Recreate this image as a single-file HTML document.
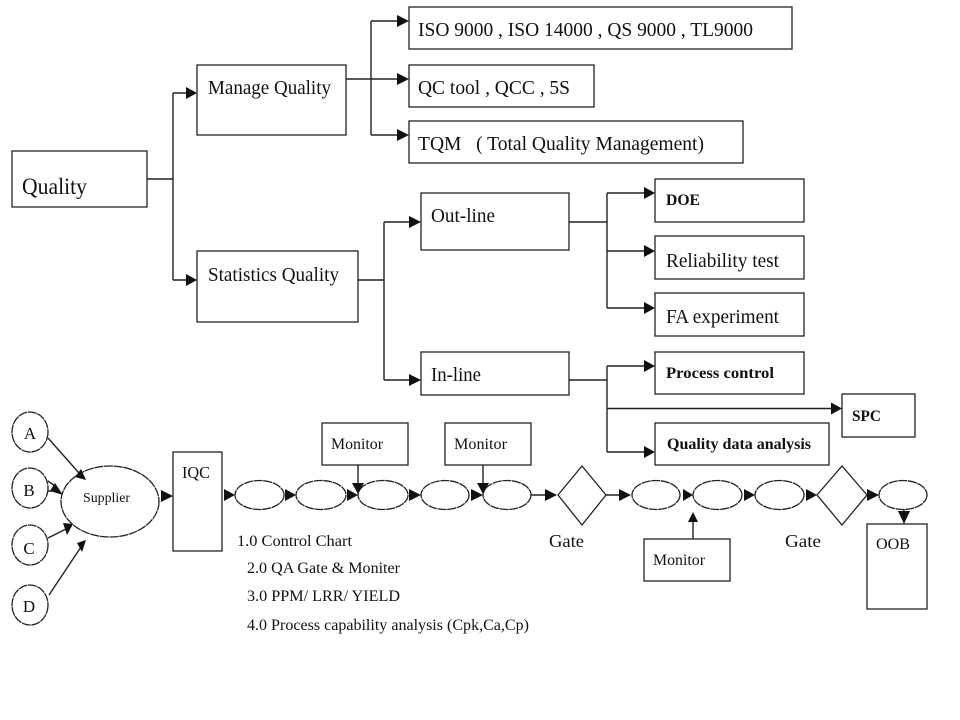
<!DOCTYPE html>
<html><head><meta charset="utf-8"><style>
html,body{margin:0;padding:0;background:#fff}
svg{display:block}
text{font-family:"Liberation Serif",serif;fill:#111}
.b{fill:#fff;stroke:#222;stroke-width:1.3}
.l{fill:none;stroke:#222;stroke-width:1.4}
.d{fill:#fff;stroke:#222;stroke-width:1.3;stroke-dasharray:9 .7}
.a{fill:#111}
</style></head><body>
<svg width="960" height="720" viewBox="0 0 960 720" xmlns="http://www.w3.org/2000/svg">
<rect width="960" height="720" fill="#fff"/>
<!-- connectors top -->
<path class="l" d="M147 179H173M173 93V280M173 93H190M173 280H190"/>
<path class="l" d="M346 79H400M371 21V135M371 21H400M371 135H400"/>
<path class="l" d="M358 280H384M384 222V380M384 222H412M384 380H412"/>
<path class="l" d="M569 222H607M607 193V308M607 193H645M607 251H645M607 308H645"/>
<path class="l" d="M569 380H607M607 366V452M607 366H645M607 408.500H832M607 452H645"/>
<!-- arrowheads top -->
<path class="a" d="M197 93L186 87V99Z M197 280L186 274V286Z"/>
<path class="a" d="M409 21L397 15V27Z M409 79L397 73V85Z M409 135L397 129V141Z"/>
<path class="a" d="M421 222L409 216V228Z M421 380L409 374V386Z"/>
<path class="a" d="M655 193L644 187V199Z M655 251L644 245V257Z M655 308L644 302V314Z"/>
<path class="a" d="M655 366L644 360V372Z M655 452L644 446V458Z M842 408.500L831 402.500V414.500Z"/>
<!-- boxes top -->
<rect class="b" x="12" y="151" width="135" height="56"/>
<rect class="b" x="197" y="65" width="149" height="70"/>
<rect class="b" x="197" y="251" width="161" height="71"/>
<rect class="b" x="409" y="7" width="383" height="42"/>
<rect class="b" x="409" y="65" width="185" height="42"/>
<rect class="b" x="409" y="121" width="334" height="42"/>
<rect class="b" x="421" y="193" width="148" height="57"/>
<rect class="b" x="421" y="352" width="148" height="43"/>
<rect class="b" x="655" y="179" width="149" height="43"/>
<rect class="b" x="655" y="236" width="149" height="43"/>
<rect class="b" x="655" y="293" width="149" height="43"/>
<rect class="b" x="655" y="352" width="149" height="42"/>
<rect class="b" x="842" y="394" width="73" height="43"/>
<rect class="b" x="655" y="423" width="174" height="42"/>
<!-- text top -->
<text x="22" y="194" font-size="23" textLength="65" lengthAdjust="spacingAndGlyphs">Quality</text>
<text x="208" y="94" font-size="20" textLength="123" lengthAdjust="spacingAndGlyphs">Manage Quality</text>
<text x="208" y="281" font-size="20" textLength="131" lengthAdjust="spacingAndGlyphs">Statistics Quality</text>
<text x="418" y="36" font-size="20" textLength="335" lengthAdjust="spacingAndGlyphs">ISO 9000 , ISO 14000 , QS 9000 , TL9000</text>
<text x="418" y="94" font-size="20" textLength="152" lengthAdjust="spacingAndGlyphs">QC tool , QCC , 5S</text>
<text x="418" y="150" font-size="20" textLength="286" lengthAdjust="spacingAndGlyphs" xml:space="preserve">TQM   ( Total Quality Management)</text>
<text x="431" y="222" font-size="20" textLength="64" lengthAdjust="spacingAndGlyphs">Out-line</text>
<text x="431" y="381" font-size="20" textLength="50" lengthAdjust="spacingAndGlyphs">In-line</text>
<text x="666" y="205" font-size="16" font-weight="bold" textLength="34" lengthAdjust="spacingAndGlyphs">DOE</text>
<text x="666" y="267" font-size="20" textLength="113" lengthAdjust="spacingAndGlyphs">Reliability test</text>
<text x="666" y="323" font-size="20" textLength="113" lengthAdjust="spacingAndGlyphs">FA experiment</text>
<text x="666" y="378" font-size="16" font-weight="bold" textLength="108" lengthAdjust="spacingAndGlyphs">Process control</text>
<text x="852" y="421" font-size="16" font-weight="bold" textLength="29" lengthAdjust="spacingAndGlyphs">SPC</text>
<text x="667" y="449" font-size="16" font-weight="bold" textLength="144" lengthAdjust="spacingAndGlyphs">Quality data analysis</text>
<!-- shapes bottom -->
<ellipse class="d" cx="30" cy="432" rx="18" ry="20"/>
<ellipse class="d" cx="30" cy="488" rx="18" ry="20"/>
<ellipse class="d" cx="30" cy="545" rx="18" ry="20"/>
<ellipse class="d" cx="30" cy="605" rx="18" ry="20"/>
<ellipse class="d" cx="110" cy="501.500" rx="49" ry="35.500"/>
<rect class="b" x="173" y="452" width="49" height="99"/>
<rect class="b" x="322" y="423" width="86" height="42"/>
<rect class="b" x="445" y="423" width="86" height="42"/>
<rect class="b" x="644" y="539" width="86" height="42"/>
<rect class="b" x="867" y="524" width="60" height="85"/>
<ellipse class="d" cx="259.500" cy="495" rx="24.500" ry="14.500"/>
<ellipse class="d" cx="321" cy="495" rx="25" ry="14.500"/>
<ellipse class="d" cx="383" cy="495" rx="25" ry="14.500"/>
<ellipse class="d" cx="445" cy="495" rx="24" ry="14.500"/>
<ellipse class="d" cx="507" cy="495" rx="24" ry="14.500"/>
<polygon class="b" points="582,466 606,495 582,525 558,495"/>
<ellipse class="d" cx="656" cy="495" rx="24" ry="14.500"/>
<ellipse class="d" cx="717.500" cy="495" rx="24.500" ry="14.500"/>
<ellipse class="d" cx="779.500" cy="495" rx="24.500" ry="14.500"/>
<polygon class="b" points="842,466 867,495 842,525 817,495"/>
<ellipse class="d" cx="903" cy="495" rx="24" ry="14.500"/>
<!-- supplier arrows -->
<path class="l" d="M48 438L79 473M48 481L55 486M48 491L52 491M48 538L66 529M49 595L81 547"/>
<path class="a" d="M86 480L81 469L75 477Z"/>
<path class="a" d="M63 495L55 483L50 491Z"/>
<path class="a" d="M73 524L63 523L67 535Z"/>
<path class="a" d="M86 540L77 543L82 552Z"/>
<!-- process connectors -->
<path class="l" d="M531 495H546M606 495H620M358 465V484M483 465V484M693 521V539M904 509V512"/>
<path class="a" d="M173 496L161 490V502Z M235 495L224 489V501Z M296 495L285 489V501Z M358 495L347 489V501Z M421 495L409 489V501Z M483 495L471 489V501Z"/>
<path class="a" d="M557 495L545 489V501Z M631 495L619 489V501Z"/>
<path class="a" d="M358 494L352 483H364Z M483 494L477 483H489Z"/>
<path class="a" d="M693 512L688 522H698Z"/>
<path class="a" d="M693 495L683 489V501Z M755 495L744 489V501Z M817 495L806 489V501Z M879 495L867 489V501Z"/>
<path class="a" d="M904 524L898 511H910Z"/>
<!-- process text -->
<text x="30" y="439" font-size="17" text-anchor="middle">A</text>
<text x="29" y="496" font-size="17" text-anchor="middle">B</text>
<text x="29" y="554" font-size="17" text-anchor="middle">C</text>
<text x="29" y="612" font-size="17" text-anchor="middle">D</text>
<text x="83" y="502" font-size="14" textLength="47" lengthAdjust="spacingAndGlyphs">Supplier</text>
<text x="182" y="478" font-size="17" textLength="28" lengthAdjust="spacingAndGlyphs">IQC</text>
<text x="331" y="449" font-size="16" textLength="52" lengthAdjust="spacingAndGlyphs">Monitor</text>
<text x="454" y="449" font-size="16" textLength="53" lengthAdjust="spacingAndGlyphs">Monitor</text>
<text x="653" y="565" font-size="16" textLength="52" lengthAdjust="spacingAndGlyphs">Monitor</text>
<text x="549" y="547" font-size="18" textLength="35" lengthAdjust="spacingAndGlyphs">Gate</text>
<text x="785" y="547" font-size="18" textLength="36" lengthAdjust="spacingAndGlyphs">Gate</text>
<text x="876" y="549" font-size="16" textLength="34" lengthAdjust="spacingAndGlyphs">OOB</text>
<text x="237" y="546" font-size="16" textLength="115" lengthAdjust="spacingAndGlyphs">1.0 Control Chart</text>
<text x="247" y="573" font-size="16" textLength="153" lengthAdjust="spacingAndGlyphs">2.0 QA Gate &amp; Moniter</text>
<text x="247" y="601" font-size="16" textLength="153" lengthAdjust="spacingAndGlyphs">3.0 PPM/ LRR/ YIELD</text>
<text x="247" y="630" font-size="16" textLength="282" lengthAdjust="spacingAndGlyphs">4.0 Process capability analysis (Cpk,Ca,Cp)</text>
</svg>
</body></html>
